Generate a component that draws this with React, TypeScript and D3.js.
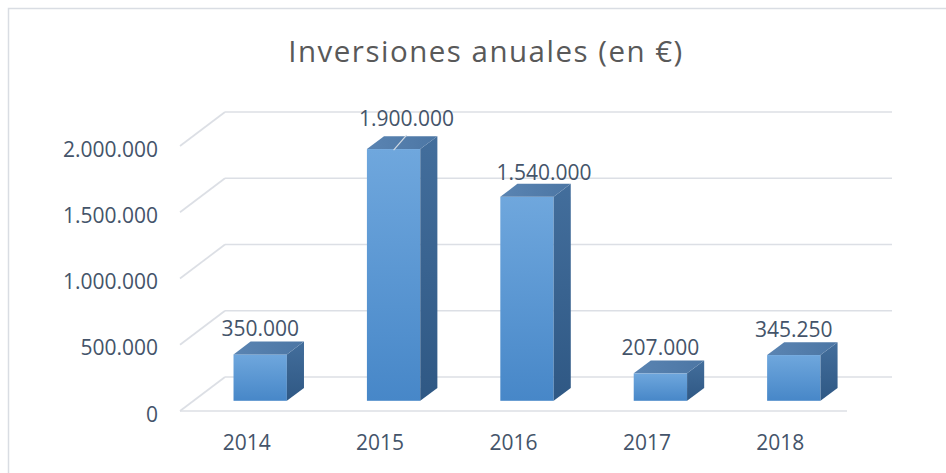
import React from 'react'
import * as d3 from 'd3'

// data
const years = ['2014', '2015', '2016', '2017', '2018']
const investments = [350000, 1900000, 1540000, 207000, 345250]
const yTicks = [0, 500000, 1000000, 1500000, 2000000]

// hand-placed label nudges (Excel labels moved by the user)
const labelNudgeX = [0, 13, 17, 0, 0]
const labelNudgeY = [0, -4.5, 2, 0, 0]

const esLocale = d3.formatLocale({
  decimal: ',',
  thousands: '.',
  grouping: [3],
  currency: ['', ' €'],
})
const fmt = esLocale.format(',d')

const W = 946
const H = 473
const floorLeft = 180
const floorRight = 847
const depth = { dx: 45, dy: -34 }
const barFront = 0.3
const barBack = 0.68

const font = "'Open Sans', 'DejaVu Sans', sans-serif"
const gridColor = '#dcdfe5'
const textColor = '#44546a'

const App = () => {
  const x = d3
    .scaleBand()
    .domain(years)
    .range([floorLeft, floorRight])
    .paddingInner(0.6)
    .paddingOuter(0.3)

  const y = d3.scaleLinear().domain([0, 2000000]).range([411, 146])

  const fdx = barFront * depth.dx
  const fdy = barFront * depth.dy
  const bdx = barBack * depth.dx
  const bdy = barBack * depth.dy

  const bars = years.map((yr, i) => {
    const v = investments[i]
    const x0 = (x(yr) as number) + fdx
    const x1 = x0 + x.bandwidth()
    const yb = y(0) + fdy
    const yt = y(v) + fdy
    const sx = bdx - fdx
    const sy = bdy - fdy
    return { yr, v, i, x0, x1, yb, yt, sx, sy }
  })

  return (
    <svg
      width={W}
      height={H}
      style={{ position: 'absolute', left: 0, top: 0 }}
      fontFamily={font}
    >
      <defs>
        <linearGradient id='front' x1='0' y1='0' x2='0' y2='1'>
          <stop offset='0%' stopColor='#6fa7dd' />
          <stop offset='100%' stopColor='#4787c8' />
        </linearGradient>
        <linearGradient id='side' x1='0' y1='0' x2='0' y2='1'>
          <stop offset='0%' stopColor='#436e9c' />
          <stop offset='100%' stopColor='#2f5884' />
        </linearGradient>
        <linearGradient id='top' x1='0' y1='0' x2='1' y2='0'>
          <stop offset='0%' stopColor='#5a84b2' />
          <stop offset='100%' stopColor='#4c76a4' />
        </linearGradient>
      </defs>

      <rect x={0} y={0} width={W} height={H} fill='#ffffff' />
      <rect
        x={8.5}
        y={8.5}
        width={W + 20}
        height={H + 20}
        fill='none'
        stroke='#d9dde3'
        strokeWidth={1.5}
      />

      <text
        x={486}
        y={62}
        textAnchor='middle'
        fontSize={29.5}
        fill='#595959'
        letterSpacing={1.5}
      >
        Inversiones anuales (en €)
      </text>

      {/* walls */}
      <g stroke={gridColor} strokeWidth={1.7} fill='none'>
        {yTicks.map((t) => (
          <g key={t}>
            <line
              x1={floorLeft}
              y1={y(t)}
              x2={floorLeft + depth.dx}
              y2={y(t) + depth.dy}
            />
            <line
              x1={floorLeft + depth.dx}
              y1={y(t) + depth.dy}
              x2={floorRight + depth.dx}
              y2={y(t) + depth.dy}
            />
          </g>
        ))}
        <line x1={floorLeft} y1={y(0)} x2={floorRight} y2={y(0)} />
      </g>

      {/* y axis labels */}
      {yTicks.map((t) => (
        <text
          key={t}
          x={158}
          y={y(t) + 2.5}
          textAnchor='end'
          dominantBaseline='central'
          fontSize={21}
          fill={textColor}
        >
          {fmt(t)}
        </text>
      ))}

      {/* bars */}
      {bars.map((b) => (
        <g key={b.yr}>
          <rect
            x={b.x0}
            y={b.yt}
            width={b.x1 - b.x0}
            height={b.yb - b.yt}
            fill='url(#front)'
          />
          <path
            d={`M${b.x1},${b.yb}L${b.x1},${b.yt}L${b.x1 + b.sx},${b.yt + b.sy}L${b.x1 + b.sx},${b.yb + b.sy}Z`}
            fill='url(#side)'
          />
          <path
            d={`M${b.x0},${b.yt}L${b.x1},${b.yt}L${b.x1 + b.sx},${b.yt + b.sy}L${b.x0 + b.sx},${b.yt + b.sy}Z`}
            fill='url(#top)'
          />
        </g>
      ))}

      {/* value labels */}
      {bars.map((b) => {
        const cx = (b.x0 + b.x1) / 2
        const lx = cx + labelNudgeX[b.i]
        const ly = b.yt + b.sy - 5.5 + labelNudgeY[b.i]
        return (
          <g key={b.yr}>
            {labelNudgeY[b.i] < -2 && (
              <line
                x1={cx}
                y1={b.yt + 1}
                x2={lx}
                y2={ly + 9}
                stroke='#d3dbe4'
                strokeWidth={1.2}
              />
            )}
            <text
              x={lx}
              y={ly}
              textAnchor='middle'
              fontSize={21}
              fill={textColor}
            >
              {fmt(b.v)}
            </text>
          </g>
        )
      })}

      {/* category labels */}
      {years.map((yr) => (
        <text
          key={yr}
          x={(x(yr) as number) + x.bandwidth() / 2}
          y={450}
          textAnchor='middle'
          fontSize={21}
          fill={textColor}
        >
          {yr}
        </text>
      ))}
    </svg>
  )
}

export default App
